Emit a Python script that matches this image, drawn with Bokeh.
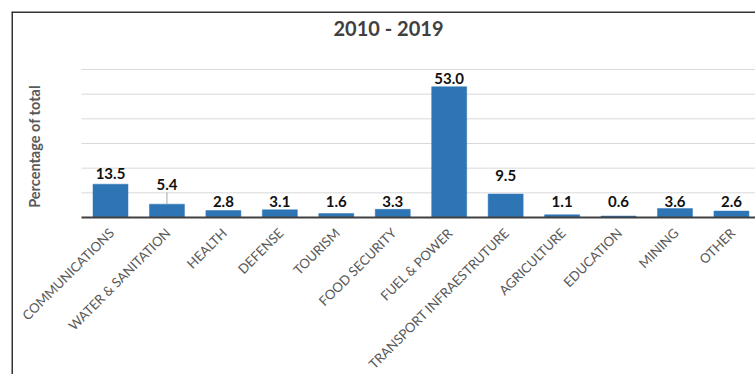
import math
from bokeh.plotting import figure
from bokeh.models import Range1d, ColumnDataSource
from bokeh.core.properties import value
from bokeh.embed import file_html
from bokeh.resources import INLINE

categories = ["COMMUNICATIONS", "WATER & SANITATION", "HEALTH", "DEFENSE", "TOURISM",
              "FOOD SECURITY", "FUEL & POWER", "TRANSPORT INFRAESTRUTURE", "AGRICULTURE",
              "EDUCATION", "MINING", "OTHER"]
values = [13.5, 5.4, 2.8, 3.1, 1.6, 3.3, 53.0, 9.5, 1.1, 0.6, 3.6, 2.6]
value_labels = ["13.5", "5.4", "2.8", "3.1", "1.6", "3.3", "53.0", "9.5", "1.1", "0.6", "3.6", "2.6"]
label_y = [17.8, 13.4, 6.5, 6.5, 6.5, 6.5, 56.3, 17.0, 6.5, 6.5, 6.5, 6.5]
grid_ticks = [10, 20, 30, 40, 50, 60]
title_text = "2010 - 2019"
y_title = "Percentage of total"

FONT = "Lato"
W, H = 755, 374
FL, FT = 11, 11            # chart-area frame (left/top) in pixels
PLOT_LEFT = 81             # left end of plot area
X0_PX, X_STEP = 110.0, 56.45   # pixel of first category, pixels per category
Y0_PX, Y_STEP = 217.0, 2.467   # pixel of value 0, pixels per unit


def dx(px):
    return (px - X0_PX) / X_STEP


def dy(px):
    return (Y0_PX - px) / Y_STEP


idx = list(range(len(categories)))

p = figure(width=W, height=H, output_backend="svg", toolbar_location=None,
           x_range=Range1d(dx(FL), dx(W)), y_range=Range1d(dy(H), dy(FT)),
           min_border_left=FL, min_border_right=0, min_border_top=FT, min_border_bottom=0,
           x_axis_location=None, y_axis_location=None)
p.outline_line_color = None
p.grid.visible = False
p.background_fill_color = "white"
p.border_fill_color = "white"

# chart border (left & top; right/bottom lie outside the window)
p.vspan(x=[dx(FL)], line_color="#333333", line_width=3)
p.hspan(y=[dy(FT)], line_color="#333333", line_width=3)

# horizontal gridlines
p.segment(x0=[dx(PLOT_LEFT)] * len(grid_ticks), x1=[dx(W)] * len(grid_ticks),
          y0=grid_ticks, y1=grid_ticks, line_color="#d9d9d9", line_width=1)

src = ColumnDataSource(dict(x=idx, top=values, ly=label_y, lab=value_labels, cat=categories))
p.vbar(x="x", top="top", bottom=0, width=0.62, source=src, fill_color="#2E75B6",
       line_color="#2E75B6", line_width=0.5)

# category axis line
p.segment(x0=[dx(PLOT_LEFT)], x1=[dx(W)], y0=[0], y1=[0], line_color="#404040", line_width=2)

# data labels
p.text(x="x", y="ly", text="lab", source=src, text_align="center", text_baseline="middle",
       text_font=value(FONT), text_font_size="15px", text_font_style="bold", text_color="#111111")
# leader line for the WATER & SANITATION label
p.segment(x0=[idx[1]], y0=[values[1]], x1=[idx[1]], y1=[dy(192)], line_color="#a6a6a6", line_width=1)

# category labels (rotated 45 degrees)
p.text(x="x", y=dy(230), text="cat", source=src, angle=math.pi / 4, x_offset=1,
       text_align="right", text_baseline="middle", text_font=value(FONT),
       text_font_size="13.2px", text_color="#595959")

# title
p.text(x=[dx(388)], y=[dy(27)], text=[title_text], text_align="center", text_baseline="middle",
       text_font=value(FONT), text_font_size="20px", text_font_style="bold", text_color="#404040")

# y-axis title
p.text(x=[dx(34)], y=[dy(146)], text=[y_title], angle=math.pi / 2, text_align="center",
       text_baseline="middle", text_font=value(FONT), text_font_size="14.5px",
       text_font_style="bold", text_color="#595959")

open("out.html", "w").write(file_html(p, INLINE))
